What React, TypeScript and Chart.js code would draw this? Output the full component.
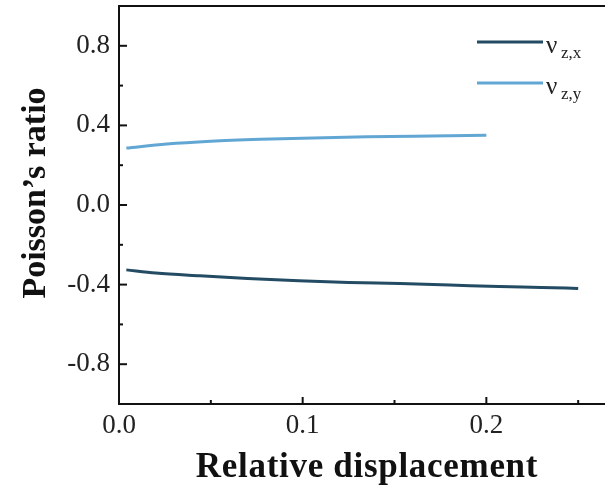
import { useEffect, useRef } from "react";
import { Chart, registerables } from "chart.js";

Chart.register(...registerables);

// ν z,x series
const xZX = [0.004, 0.02, 0.044, 0.07, 0.098, 0.125, 0.153, 0.18, 0.207, 0.23, 0.25];
const yZX = [-0.326, -0.342, -0.356, -0.369, -0.381, -0.389, -0.395, -0.402, -0.41, -0.414, -0.419];
// ν z,y series
const xZY = [0.004, 0.026, 0.05, 0.077, 0.1, 0.135, 0.17, 0.2];
const yZY = [0.286, 0.306, 0.32, 0.33, 0.336, 0.343, 0.347, 0.35];

const seriesSymbols = ["ν", "ν"];
const seriesSubs = ["z,x", "z,y"];
const seriesColors = ["#234b63", "#62a7d3"];

const xTicks = [0, 0.1, 0.2];
const xMinorTicks = [0.05, 0.15, 0.25];
const yTicks = [-0.8, -0.4, 0, 0.4, 0.8];
const yMinorTicks = [-0.6, -0.2, 0.2, 0.6];

const xTitle = "Relative displacement";
const yTitle = "Poisson’s ratio";

const decorPlugin = {
  id: "decor",
  afterDraw(chart: any) {
    const ctx = chart.ctx as CanvasRenderingContext2D;
    const { left, right, top, bottom } = chart.chartArea;
    const xs = chart.scales.x;
    const ys = chart.scales.y;
    ctx.save();
    ctx.strokeStyle = "#111";
    ctx.lineWidth = 2;
    ctx.beginPath();
    ctx.moveTo(left - 1, top);
    ctx.lineTo(right, top);
    ctx.stroke();
    const tick = (x1: number, y1: number, x2: number, y2: number) => {
      ctx.beginPath();
      ctx.moveTo(x1, y1);
      ctx.lineTo(x2, y2);
      ctx.stroke();
    };
    xTicks.forEach((v) => {
      const p = xs.getPixelForValue(v);
      tick(p, bottom, p, bottom - 7);
    });
    xMinorTicks.forEach((v) => {
      const p = xs.getPixelForValue(v);
      tick(p, bottom, p, bottom - 4);
    });
    yTicks.forEach((v) => {
      const p = ys.getPixelForValue(v);
      tick(left, p, left + 8, p);
    });
    yMinorTicks.forEach((v) => {
      const p = ys.getPixelForValue(v);
      tick(left, p, left + 4, p);
    });
    // titles
    ctx.fillStyle = "#111";
    ctx.textAlign = "center";
    ctx.textBaseline = "alphabetic";
    ctx.font = "bold 35px 'Liberation Serif'";
    (ctx as any).letterSpacing = "0.7px";
    ctx.fillText(xTitle, 367, 477);
    (ctx as any).letterSpacing = "0px";
    ctx.font = "bold 34px 'Liberation Serif'";
    ctx.save();
    ctx.translate(45, 193);
    ctx.rotate(-Math.PI / 2);
    ctx.fillText(yTitle, 0, 0);
    ctx.restore();
    // legend
    chart.data.datasets.forEach((ds: any, i: number) => {
      const ly = 42 + i * 41;
      ctx.strokeStyle = ds.borderColor;
      ctx.lineWidth = 3;
      ctx.beginPath();
      ctx.moveTo(477, ly);
      ctx.lineTo(543, ly);
      ctx.stroke();
      ctx.fillStyle = "#222";
      ctx.textAlign = "left";
      ctx.font = "25px 'Liberation Serif'";
      ctx.fillText(seriesSymbols[i], 546, ly + 11);
      ctx.font = "17px 'Liberation Serif'";
      ctx.fillText(seriesSubs[i], 561, ly + 16);
    });
    ctx.restore();
  },
};

export default function App() {
  const ref = useRef<HTMLCanvasElement | null>(null);
  useEffect(() => {
    document.body.style.margin = "0";
    const canvas = ref.current!;
    const chart = new Chart(canvas, {
      type: "scatter",
      data: {
        datasets: [
          {
            label: "νz,x",
            data: xZX.map((x, i) => ({ x, y: yZX[i] })),
            showLine: true,
            borderColor: seriesColors[0],
            backgroundColor: seriesColors[0],
            borderWidth: 3,
            pointRadius: 0,
            cubicInterpolationMode: "monotone",
          },
          {
            label: "νz,y",
            data: xZY.map((x, i) => ({ x, y: yZY[i] })),
            showLine: true,
            borderColor: seriesColors[1],
            backgroundColor: seriesColors[1],
            borderWidth: 3,
            pointRadius: 0,
            cubicInterpolationMode: "monotone",
          },
        ],
      },
      options: {
        animation: false,
        responsive: false,
        devicePixelRatio: 1,
        layout: { padding: { top: 6, right: 0, left: 0, bottom: 0 } },
        plugins: { legend: { display: false }, tooltip: { enabled: false } },
        scales: {
          x: {
            type: "linear",
            min: 0,
            max: 0.2646,
            afterBuildTicks: (s: any) => {
              s.ticks = xTicks.map((v) => ({ value: v }));
            },
            afterFit: (s: any) => {
              s.height = 85;
              s.paddingLeft = 0;
              s.paddingRight = 0;
            },
            grid: { display: false, drawTicks: false },
            border: { display: true, color: "#111", width: 2 },
            ticks: {
              padding: 6,
              color: "#222",
              font: { family: "'Liberation Serif'", size: 27 },
              maxRotation: 0,
              callback: (v: any) => Number(v).toFixed(1),
            },
          },
          y: {
            type: "linear",
            min: -1,
            max: 1,
            afterBuildTicks: (s: any) => {
              s.ticks = yTicks.map((v) => ({ value: v }));
            },
            afterFit: (s: any) => {
              s.width = 119;
              s.paddingTop = 0;
              s.paddingBottom = 0;
            },
            grid: { display: false, drawTicks: false },
            border: { display: true, color: "#111", width: 2 },
            ticks: {
              padding: 9,
              color: "#222",
              font: { family: "'Liberation Serif'", size: 27 },
              callback: (v: any) => Number(v).toFixed(1),
            },
          },
        },
      },
      plugins: [decorPlugin],
    });
    return () => chart.destroy();
  }, []);
  return <canvas ref={ref} width={605} height={489} style={{ display: "block" }} />;
}
